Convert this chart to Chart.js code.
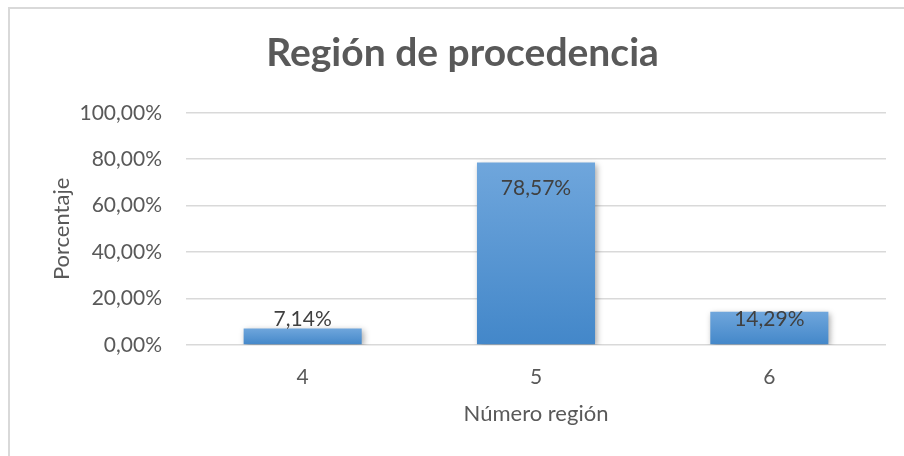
<!DOCTYPE html>
<html>
<head>
<meta charset="utf-8">
<script src="https://cdn.jsdelivr.net/npm/chart.js@4"></script>
<style>
html,body{margin:0;padding:0;background:#fff;}
canvas{display:block;}
</style>
</head>
<body>
<canvas id="c" width="904" height="456"></canvas>
<script>
const categories = ['4', '5', '6'];
const values = [7.14, 78.57, 14.29];
const yTicks = [0, 20, 40, 60, 80, 100];
const titleText = 'Región de procedencia';
const xTitle = 'Número región';
const yTitle = 'Porcentaje';

const FONT = 'Lato';
const fmt = v => v.toFixed(2).replace('.', ',') + '%';

const frame = {
  id: 'frame',
  beforeDraw(chart) {
    const c = chart.ctx;
    c.save();
    c.fillStyle = '#fff';
    c.fillRect(0, 0, chart.width, chart.height);
    c.fillStyle = '#d9d9d9';
    c.fillRect(8, 7, 2, chart.height - 7);
    c.fillRect(8, 7, chart.width - 8, 2);
    c.restore();
  }
};

const shadow = {
  id: 'shadow',
  beforeDatasetsDraw(chart) {
    const c = chart.ctx;
    c.save();
    c.shadowColor = 'rgba(0,0,0,0.35)';
    c.shadowBlur = 6;
    c.shadowOffsetX = 2;
    c.shadowOffsetY = 2;
  },
  afterDatasetsDraw(chart) {
    chart.ctx.restore();
  }
};

const labels = {
  id: 'labels',
  afterDatasetsDraw(chart) {
    const c = chart.ctx;
    const meta = chart.getDatasetMeta(0);
    c.save();
    c.font = '21px ' + FONT;
    c.fillStyle = '#404040';
    c.textAlign = 'center';
    c.textBaseline = 'middle';
    meta.data.forEach((el, i) => {
      const y = Math.min(el.y + 26, el.base - 25);
      c.fillText(fmt(values[i]), el.x, y);
    });
    c.restore();
  }
};

new Chart(document.getElementById('c'), {
  type: 'bar',
  data: {
    labels: categories,
    datasets: [{
      data: values,
      categoryPercentage: 1,
      barPercentage: 0.506,
      borderWidth: 0,
      backgroundColor(ctx) {
        const chart = ctx.chart;
        const ys = chart.scales.y;
        if (!ys || ctx.raw === undefined) return '#5b9bd5';
        const top = ys.getPixelForValue(ctx.raw);
        const base = ys.getPixelForValue(0);
        if (!isFinite(top) || !isFinite(base) || top === base) return '#5b9bd5';
        const g = chart.ctx.createLinearGradient(0, top, 0, base);
        g.addColorStop(0, '#6fa6dc');
        g.addColorStop(1, '#4387c9');
        return g;
      }
    }]
  },
  options: {
    responsive: false,
    animation: false,
    devicePixelRatio: 1,
    layout: { padding: { left: 39, right: 18, top: 0, bottom: 0 } },
    plugins: {
      legend: { display: false },
      tooltip: { enabled: false },
      title: {
        display: true,
        text: titleText,
        color: '#595959',
        font: { family: FONT, size: 39, weight: 'bold' },
        padding: { top: 30, bottom: 36 }
      }
    },
    scales: {
      x: {
        grid: { display: false },
        border: { display: false },
        ticks: { color: '#595959', font: { family: FONT, size: 21 }, padding: 12 },
        title: {
          display: true, text: xTitle, color: '#595959',
          font: { family: FONT, size: 22 }, padding: { top: 0, bottom: 29 }
        },
        afterFit(s) { s.height = 111; }
      },
      y: {
        min: 0, max: 100,
        afterBuildTicks(s) { s.ticks = yTicks.map(v => ({ value: v })); },
        grid: { color: '#d9d9d9', lineWidth: 1.5, drawTicks: false },
        border: { display: false },
        ticks: {
          color: '#595959', font: { family: FONT, size: 21 }, padding: 24,
          callback: v => fmt(v)
        },
        title: {
          display: true, text: yTitle, color: '#595959',
          font: { family: FONT, size: 22 }, padding: { top: 10, bottom: 0 }
        },
        afterFit(s) { s.width = 147; }
      }
    }
  },
  plugins: [frame, shadow, labels]
});
</script>
</body>
</html>
